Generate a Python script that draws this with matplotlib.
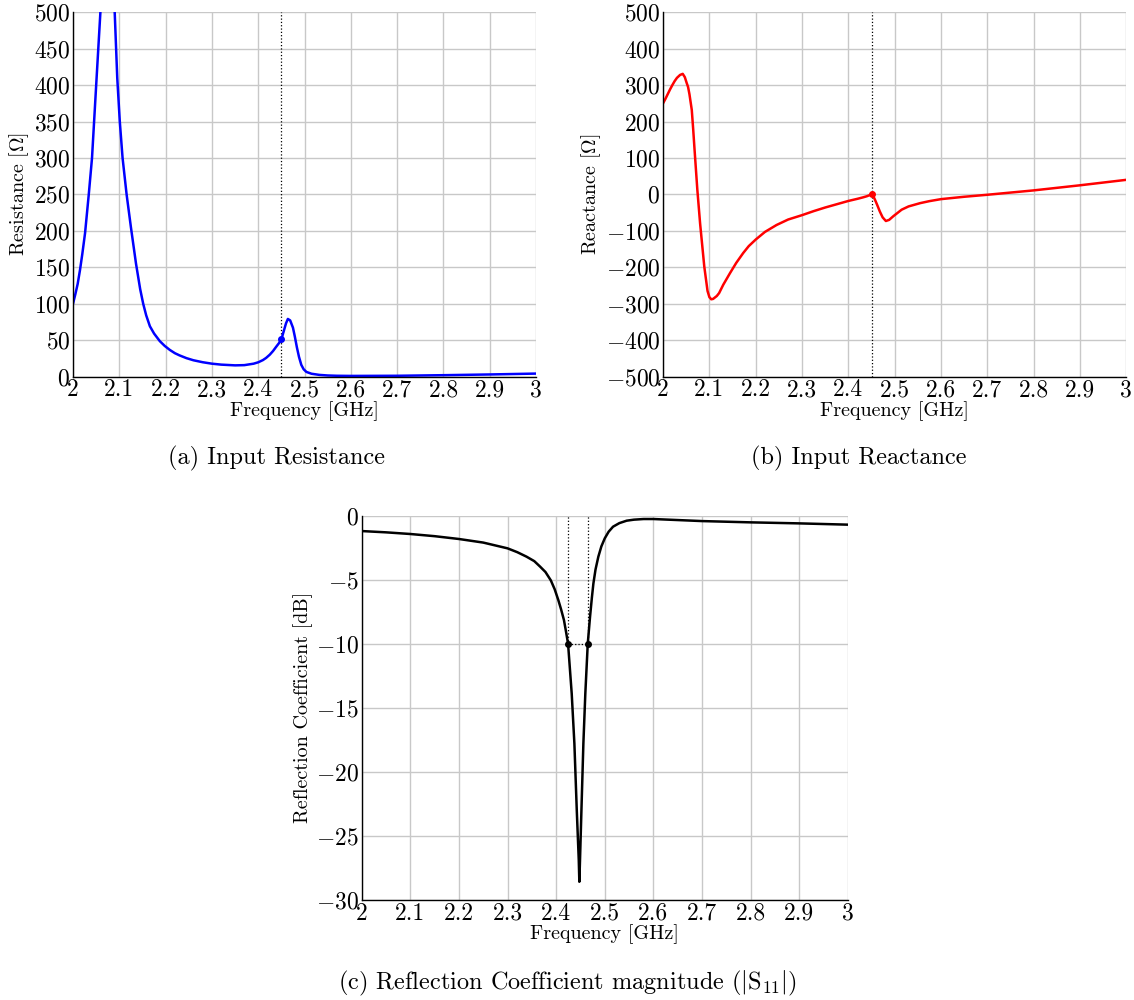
import matplotlib
matplotlib.use('Agg')
import matplotlib.pyplot as plt

plt.rcParams['font.family'] = 'cmr10'
plt.rcParams['mathtext.fontset'] = 'cm'
plt.rcParams['axes.formatter.use_mathtext'] = True

# (a) input resistance
freq_r = [2.0, 2.005, 2.01, 2.015, 2.02, 2.026, 2.034, 2.041, 2.05, 2.06, 2.068, 2.075,
          2.082, 2.09, 2.0955, 2.101, 2.107, 2.1157, 2.125, 2.136, 2.145, 2.1515, 2.158,
          2.166, 2.175, 2.1875, 2.198, 2.209, 2.22, 2.23, 2.245, 2.26, 2.28, 2.30, 2.32,
          2.35, 2.37, 2.39, 2.40, 2.41, 2.417, 2.425, 2.432, 2.439, 2.445, 2.45, 2.455,
          2.46, 2.464, 2.469, 2.475, 2.479, 2.4835, 2.488, 2.493, 2.498, 2.504, 2.515,
          2.532, 2.55, 2.57, 2.6, 2.7, 2.8, 2.9, 3.0]
resistance = [100, 113, 127, 146, 168, 197, 250, 300, 400, 510, 640, 700,
              640, 500, 410, 350, 300, 250, 205, 155, 120, 100, 84,
              69, 59, 48.5, 42, 36.5, 32, 29, 25.2, 22.3, 19.6, 17.6, 16.3,
              15.3, 15.6, 17.6, 19.5, 22.5, 25.5, 30, 35, 41, 46, 51, 62,
              73, 79, 77, 67, 55, 40, 27, 16, 10, 6.3, 3.8,
              2.2, 1.4, 1, 0.8, 1, 1.8, 2.8, 4]

# (b) input reactance
freq_x = [2.0, 2.005, 2.01, 2.015, 2.02, 2.025, 2.03, 2.0367, 2.0425, 2.047, 2.051, 2.054,
          2.057, 2.062, 2.065, 2.068, 2.074, 2.08, 2.089, 2.096, 2.1, 2.104, 2.108, 2.112,
          2.116, 2.121, 2.13, 2.1446, 2.158, 2.173, 2.185, 2.2, 2.22, 2.245, 2.27, 2.3,
          2.325, 2.35, 2.375, 2.4, 2.42, 2.432, 2.44, 2.45, 2.454, 2.4576, 2.462, 2.468,
          2.474, 2.481, 2.488, 2.497, 2.505, 2.515, 2.53, 2.555, 2.575, 2.6, 2.65, 2.7,
          2.8, 2.9, 3.0]
reactance = [250, 262, 275, 288, 300, 311, 320, 328, 331, 322, 306, 295,
             275, 232, 180, 123, 13, -80, -198, -265, -282, -288, -287, -283,
             -279, -271, -248, -216, -188, -161, -142, -124, -103, -84, -69, -57,
             -46, -36, -27, -18, -12, -8, -5, 0, -5, -15, -28, -47,
             -63, -73, -70, -60, -52, -42, -33, -24, -18.5, -13, -6.5, -1,
             11, 25, 40]

# (c) reflection coefficient
freq_s = [2.0, 2.05, 2.1, 2.15, 2.2, 2.25, 2.3, 2.32, 2.339, 2.355, 2.367, 2.378, 2.389,
          2.397, 2.4045, 2.41, 2.416, 2.42, 2.4245, 2.432, 2.4375, 2.4424, 2.4465, 2.4477,
          2.449, 2.452, 2.456, 2.46, 2.465, 2.4697, 2.4735, 2.4766, 2.481, 2.4868, 2.493,
          2.5, 2.508, 2.517, 2.53, 2.545, 2.56, 2.58, 2.6, 2.7, 2.8, 2.9, 3.0]
s11_db = [-1.2, -1.3, -1.43, -1.6, -1.82, -2.1, -2.55, -2.85, -3.2, -3.55, -3.98, -4.4, -5.05,
          -5.75, -6.6, -7.3, -8.15, -9, -10, -13.9, -17.8, -23, -26.9, -28.6,
          -27, -23, -17.8, -13.9, -10, -7.9, -6.4, -5.3, -4.2, -3.2, -2.4,
          -1.77, -1.25, -0.86, -0.58, -0.39, -0.31, -0.26, -0.26, -0.42, -0.52, -0.6, -0.7]

f_res = 2.45
res_at_fres = 51
react_at_fres = 0
band_lo, band_hi = 2.4245, 2.465

xticks = [2.0, 2.1, 2.2, 2.3, 2.4, 2.5, 2.6, 2.7, 2.8, 2.9, 3.0]
xticklabels = ['2', '2.1', '2.2', '2.3', '2.4', '2.5', '2.6', '2.7', '2.8', '2.9', '3']

TICK_FS = 17
LABEL_FS = 14.5
CAP_FS = 17.5


def style_axis(ax, ylabel, ylim, yticks):
    ax.set_xlim(2, 3)
    ax.set_ylim(*ylim)
    ax.set_xticks(xticks)
    ax.set_xticklabels(xticklabels)
    ax.set_yticks(yticks)
    ax.grid(True, color='#c8c8c8', linewidth=1.0)
    ax.set_axisbelow(True)
    for s in ['top', 'right']:
        ax.spines[s].set_visible(False)
    for s in ['left', 'bottom']:
        ax.spines[s].set_linewidth(1.0)
    ax.tick_params(length=0, labelsize=TICK_FS, pad=2)
    ax.set_xlabel('Frequency [GHz]', fontsize=LABEL_FS, labelpad=0)
    ax.set_ylabel(ylabel, fontsize=LABEL_FS, labelpad=2)


fig = plt.figure(figsize=(11.34, 10), dpi=100)

ax1 = fig.add_axes([0.0644, 0.6235, 0.4083, 0.3642])
ax1.axvline(f_res, color='black', linestyle=':', linewidth=0.9)
ax1.plot(freq_r, resistance, color='#0000ff', linewidth=1.8)
ax1.plot([f_res], [res_at_fres], 'o', color='#0000ff', markersize=4)
style_axis(ax1, r'Resistance [$\Omega$]', (0, 500), range(0, 501, 50))

ax2 = fig.add_axes([0.5847, 0.6235, 0.4085, 0.3642])
ax2.axvline(f_res, color='black', linestyle=':', linewidth=0.9)
ax2.plot(freq_x, reactance, color='#ff0000', linewidth=1.8)
ax2.plot([f_res], [react_at_fres], 'o', color='#ff0000', markersize=4)
style_axis(ax2, r'Reactance [$\Omega$]', (-500, 500), range(-500, 501, 100))

ax3 = fig.add_axes([0.3190, 0.1003, 0.4286, 0.3840])
ax3.plot([band_lo, band_lo], [-10, 0], color='black', linestyle=':', linewidth=0.9)
ax3.plot([band_hi, band_hi], [-10, 0], color='black', linestyle=':', linewidth=0.9)
ax3.plot([band_lo, band_hi], [-10, -10], color='black', linestyle=':', linewidth=0.9)
ax3.plot(freq_s, s11_db, color='black', linewidth=1.8)
ax3.plot([band_lo, band_hi], [-10, -10], 'o', color='black', markersize=4)
style_axis(ax3, 'Reflection Coefficient [dB]', (-30, 0), range(-30, 1, 5))

fig.text(277 / 1134, 1 - 458 / 1000, '(a) Input Resistance', fontsize=CAP_FS, ha='center', va='center')
fig.text(859 / 1134, 1 - 458 / 1000, '(b) Input Reactance', fontsize=CAP_FS, ha='center', va='center')
fig.text(567 / 1134, 1 - 983 / 1000, r'(c) Reflection Coefficient magnitude ($|\mathrm{S}_{11}|$)',
         fontsize=CAP_FS, ha='center', va='center')

fig.savefig('out.png', dpi=100)
plt.close()
